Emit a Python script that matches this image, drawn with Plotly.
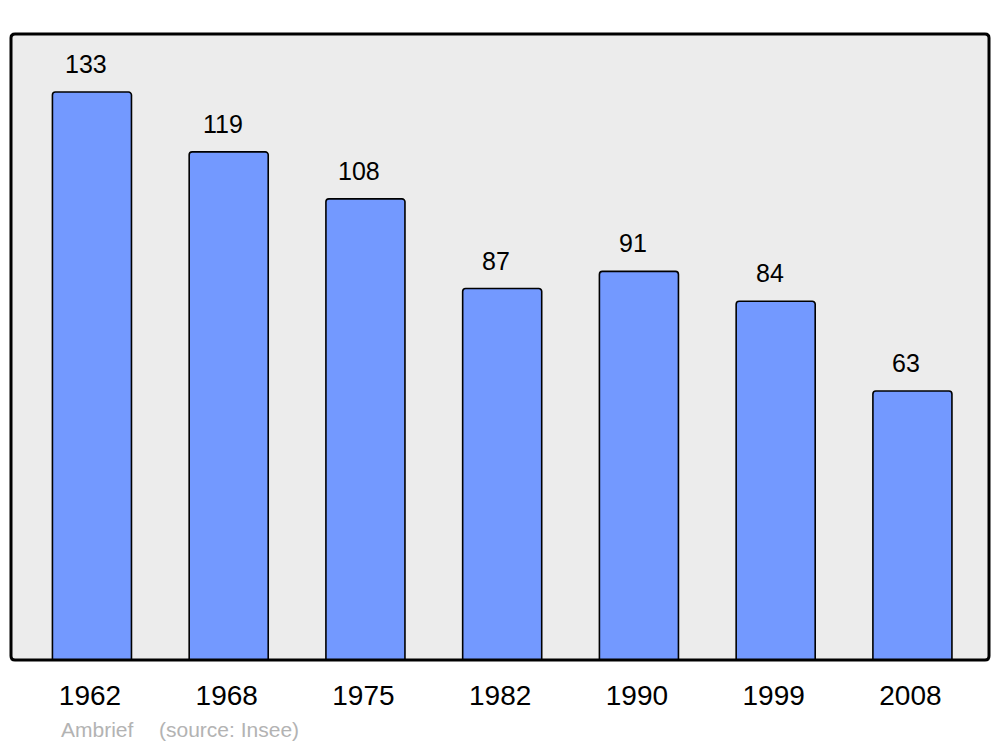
import plotly.graph_objects as go

years = ["1962", "1968", "1975", "1982", "1990", "1999", "2008"]
population = [133, 119, 108, 87, 91, 84, 63]
commune = "Ambrief"
source = "(source: Insee)"

# the page body has an 8px margin; compensate so the plot lands at x 11..989, y 34..660
OFF = 8
PW, PH = 978, 626
L, T = 11 - OFF, 34 - OFF
R = 3
B = 87
W = L + PW + R
H = T + PH + B
x_range = [-0.592, 6.56]
y_range = [0, 146.6]
FONT = "Liberation Sans, Arial, sans-serif"

fig = go.Figure()
fig.add_trace(go.Bar(
    x=list(range(len(years))), y=population,
    width=0.578,
    marker=dict(color="#7399ff", line=dict(color="#000000", width=1.6), cornerradius=3),
    hoverinfo="x+y",
))

for i, v in enumerate(population):
    fig.add_annotation(x=i, y=v, text=str(v), showarrow=False, xref="x", yref="y",
                       xanchor="center", yanchor="middle", xshift=-6, yshift=28,
                       font=dict(family=FONT, size=25, color="#000000"))

# rounded frame around plot area (paper coordinates)
rx, ry = 4 / PW, 4 / PH
path = (f"M {rx},0 L {1-rx},0 Q 1,0 1,{ry} L 1,{1-ry} Q 1,1 {1-rx},1 "
        f"L {rx},1 Q 0,1 0,{1-ry} L 0,{ry} Q 0,0 {rx},0 Z")
fig.add_shape(type="path", xref="paper", yref="paper", path=path,
              line=dict(color="#000000", width=3), fillcolor="rgba(0,0,0,0)", layer="above")

foot_y = -(729 - 660) / PH
fig.add_annotation(xref="paper", yref="paper", x=(59 - 11) / PW, y=foot_y, text=commune,
                   showarrow=False, xanchor="left", yanchor="middle",
                   font=dict(family=FONT, size=21, color="#b3b3b3"))
fig.add_annotation(xref="paper", yref="paper", x=(157 - 11) / PW, y=foot_y, text=source,
                   showarrow=False, xanchor="left", yanchor="middle",
                   font=dict(family=FONT, size=21, color="#b3b3b3"))

fig.update_layout(
    width=W, height=H,
    margin=dict(l=L, r=R, t=T, b=B, pad=0),
    paper_bgcolor="#ffffff", plot_bgcolor="#ececec",
    showlegend=False,
    xaxis=dict(range=x_range, tickmode="array", tickvals=list(range(len(years))), ticktext=years,
               showgrid=False, zeroline=False, showline=False, ticks="",
               tickfont=dict(family=FONT, size=28, color="#000000"),
               ticklabelshift=-2, ticklabelstandoff=16, fixedrange=True),
    yaxis=dict(range=y_range, showgrid=False, zeroline=False, showline=False, showticklabels=False,
               ticks="", fixedrange=True),
)

fig.write_html("out.html")
